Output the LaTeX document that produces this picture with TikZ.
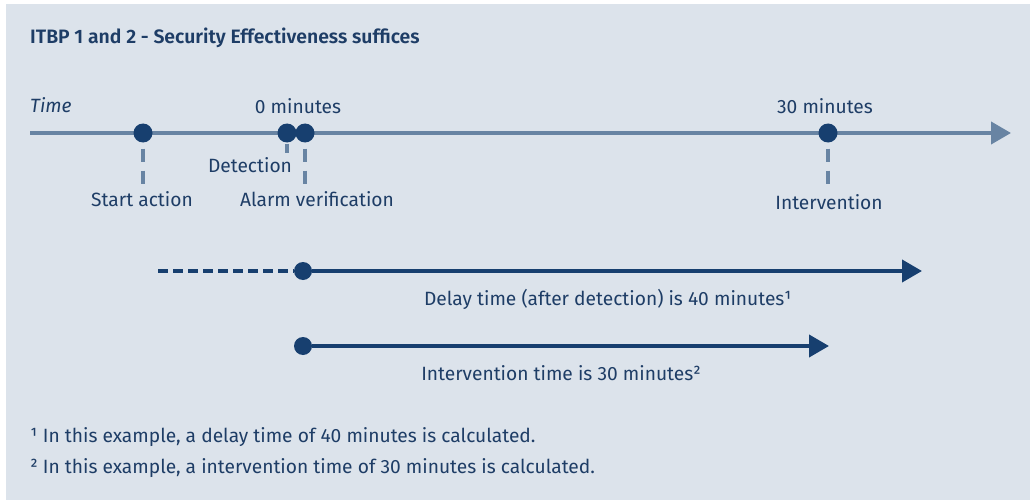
\documentclass[tikz,border=0pt]{standalone}
\usepackage{fontspec}
\setmainfont{Fira Sans}
\newfontfamily\titlefont{Fira Sans SemiBold}
\usetikzlibrary{arrows.meta}
\definecolor{bgc}{HTML}{DCE3EB}
\definecolor{navy}{HTML}{173F6F}
\definecolor{tlc}{HTML}{6884A3}
\definecolor{txt}{HTML}{1E3D66}
\begin{document}
\begin{tikzpicture}[x=1pt,y=-1pt,
  dot/.style={circle,fill=navy,inner sep=0pt,minimum size=19pt},
  sdot/.style={circle,fill=navy,inner sep=0pt,minimum size=18pt},
  lbl/.style={text=txt,font=\fontsize{19.2}{22}\selectfont,inner sep=0pt},
  ttl/.style={text=txt,font=\fontsize{19.4}{22}\selectfont\titlefont,inner sep=0pt},
  tline/.style={draw=tlc,line width=4pt},
  vdash/.style={draw=tlc,line width=4pt,dash pattern=on 13pt off 9pt},
  narrow/.style={draw=navy,line width=4pt},
  ndash/.style={draw=navy,line width=4pt,dash pattern=on 10pt off 5pt}
]
\useasboundingbox (0,0) rectangle (1030,500);
\fill[white] (0,0) rectangle (1030,500);
\fill[bgc] (6,4) rectangle (1030,500);

\node[ttl,anchor=west] (title) at (30,38) {ITBP 1 and 2 - Security Effectiveness suffices};

% timeline
\coordinate (tl0) at (30,133);
\coordinate (tlend) at (1011,133);
\draw[tline,-{Triangle[length=20pt,width=22pt]}] (tl0) -- (tlend);
\node[lbl,anchor=west,font=\fontsize{19.2}{22}\selectfont\itshape] (time) at (30,105) {Time};
\node[lbl] (zero) at (298,106) {0 minutes};
\node[lbl] (thirty) at (825,106) {30 minutes};

\node[dot] (dstart) at (143,133) {};
\node[dot] (ddet) at (287,133) {};
\node[dot] (dalarm) at (305,133) {};
\node[dot] (dint) at (828,133) {};

\node[lbl] (lstart) at (142,199) {Start action};
\node[lbl] (ldet) at (250,165) {Detection};
\node[lbl] (lalarm) at (317,199) {Alarm verification};
\node[lbl] (lint) at (829,202) {Intervention};

\coordinate (detstub) at (287,153);
\coordinate (startend) at (143,185);
\coordinate (alarmend) at (305,185);
\coordinate (intend) at (828,185);
\draw[tline] ([yshift=-1pt]ddet.south) -- (detstub);
\draw[vdash] ([yshift=-6pt]dstart.south) -- (startend);
\draw[vdash] ([yshift=-6pt]dalarm.south) -- (alarmend);
\draw[vdash] ([yshift=-6pt]dint.south) -- (intend);

% delay arrow
\node[sdot] (ddelay) at (303,271) {};
\coordinate (delayend) at (922,271);
\coordinate (delaystart) at (158,271);
\draw[narrow,-{Triangle[length=20pt,width=22pt]}] (ddelay) -- (delayend);
\draw[ndash] (delaystart) -- (ddelay.west);
\node[lbl] (ldelay) at (608,299) {Delay time (after detection) is 40 minutes¹};

% intervention arrow
\node[sdot] (dinter) at (303,346) {};
\coordinate (interend) at (829,346);
\draw[narrow,-{Triangle[length=20pt,width=22pt]}] (dinter) -- (interend);
\node[lbl] (linter) at (561,373) {Intervention time is 30 minutes²};

\node[lbl,anchor=west] (fn1) at (30,437) {¹ In this example, a delay time of 40 minutes is calculated.};
\node[lbl,anchor=west] (fn2) at (30,468) {² In this example, a intervention time of 30 minutes is calculated.};
\end{tikzpicture}
\end{document}
